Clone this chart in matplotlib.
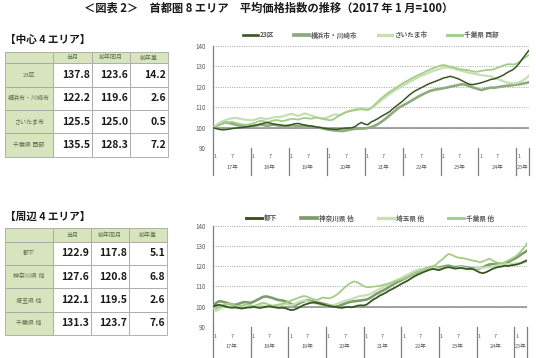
import numpy as np
import matplotlib
matplotlib.use('Agg')
import matplotlib.pyplot as plt
from matplotlib.patches import Rectangle
from matplotlib.lines import Line2D
import matplotlib.transforms as mtransforms

# ---------------- data ----------------
title = "＜図表 2＞　首都圏 8 エリア　平均価格指数の推移（2017 年 1 月=100）"

center_title = "【中心 4 エリア】"
center_names = ["23区", "横浜市・川崎市", "さいたま市", "千葉県 西部"]
center_cur = [137.8, 122.2, 125.5, 135.5]
center_prev = [123.6, 119.6, 125.0, 128.3]
center_diff = [14.2, 2.6, 0.5, 7.2]

outer_title = "【周辺 4 エリア】"
outer_names = ["都下", "神奈川県 他", "埼玉県 他", "千葉県 他"]
outer_cur = [122.9, 127.6, 122.1, 131.3]
outer_prev = [117.8, 120.8, 119.5, 123.7]
outer_diff = [5.1, 6.8, 2.6, 7.6]

table_header = ["当月", "前年同月", "前年差"]

month_ticks = [0, 6, 12, 18, 24, 30, 36, 42, 48, 54, 60, 66, 72, 78, 84, 90, 96]
month_labels = ["1", "7"] * 8 + ["1"]
year_labels = ["17年", "18年", "19年", "20年", "21年", "22年", "23年", "24年", "25年"]
year_bounds = [0, 12, 24, 36, 48, 60, 72, 84, 96, 100]
y_ticks = [90, 100, 110, 120, 130, 140]

# monthly index, Jan 2017 .. May 2025
ku23 = [
    100.0, 99.6, 99.2, 99.0, 99.1, 99.3, 99.6, 99.8, 100.0, 100.1, 100.3, 100.5,
    100.8, 101.1, 101.4, 101.8, 102.2, 102.5, 102.3, 101.9, 101.6, 101.5, 101.2, 101.0,
    101.2, 101.6, 102.0, 102.1, 101.7, 101.3, 101.0, 100.9, 100.6, 100.3, 100.1, 99.8,
    99.6, 99.4, 99.3, 99.2, 99.4, 99.6, 99.8, 99.9, 100.0, 100.6, 101.8, 102.6,
    101.8, 101.5, 102.8, 103.5, 104.3, 105.3, 106.2, 107.0, 108.0, 109.4, 110.6, 111.8,
    113.0, 114.4, 115.8, 117.0, 118.0, 118.8, 119.6, 120.4, 121.2, 121.8, 122.4, 123.0,
    123.6, 124.3, 124.6, 125.1, 124.7, 124.2, 123.6, 122.8, 122.0, 121.3, 121.0, 121.3,
    121.6, 122.0, 122.5, 123.0, 123.6, 123.8, 124.4, 125.0, 125.8, 126.8, 127.6, 128.4,
    129.8, 131.6, 133.8, 135.8, 137.8]
yokohama = [
    100.0, 100.8, 101.6, 102.2, 102.6, 102.4, 102.0, 101.6, 101.2, 100.9, 100.7, 100.6,
    100.8, 101.0, 101.2, 101.5, 101.3, 101.0, 101.2, 101.5, 101.3, 101.0, 100.8, 100.9,
    101.0, 101.2, 101.0, 100.8, 100.9, 101.1, 100.9, 100.6, 100.4, 100.2, 100.0, 99.6,
    99.2, 99.0, 98.8, 98.6, 98.5, 98.4, 98.7, 99.0, 99.3, 99.5, 99.6, 99.6,
    99.7, 99.9, 100.3, 100.9, 101.6, 102.6, 103.7, 104.9, 106.2, 107.5, 108.8, 110.0,
    110.8, 111.6, 112.5, 113.4, 114.3, 115.2, 116.0, 116.8, 117.5, 118.1, 118.5, 118.8,
    119.0, 119.3, 119.6, 120.0, 120.3, 120.6, 121.0, 121.2, 120.9, 120.4, 119.8, 119.3,
    118.8, 118.4, 118.9, 119.3, 119.6, 119.5, 119.8, 120.0, 120.3, 120.5, 120.6, 120.8,
    121.0, 121.2, 121.5, 121.8, 122.2]
saitama_city = [
    100.0, 101.2, 102.4, 103.2, 103.8, 104.3, 104.6, 104.8, 104.6, 104.3, 104.0, 103.8,
    103.6, 103.9, 104.3, 104.8, 104.5, 104.2, 104.6, 105.0, 105.4, 105.2, 105.6, 106.0,
    106.5, 106.8, 106.2, 105.8, 106.4, 107.0, 106.6, 106.0, 105.5, 105.0, 104.7, 104.6,
    104.9, 105.5, 106.3, 106.5, 106.0, 106.8, 107.6, 108.2, 108.6, 109.0, 109.4, 109.6,
    109.3, 108.9, 109.5, 110.6, 111.8, 113.0, 114.2, 115.4, 116.6, 117.6, 118.6, 119.5,
    120.4, 121.3, 122.2, 123.0, 123.8, 124.6, 125.3, 126.0, 126.7, 127.3, 127.8, 128.3,
    128.8, 129.2, 129.5, 129.3, 128.9, 128.4, 128.0, 127.6, 127.2, 126.8, 126.5, 126.2,
    125.9, 125.6, 125.4, 125.2, 125.0, 124.4, 123.8, 123.2, 122.6, 122.1, 121.8, 121.6,
    121.8, 122.2, 123.0, 124.0, 125.5]
chiba_west = [
    100.0, 100.6, 101.5, 102.0, 102.4, 102.6, 102.9, 102.5, 102.0, 101.7, 101.5, 101.6,
    101.8, 102.3, 102.9, 103.4, 103.2, 102.8, 103.0, 103.5, 103.8, 103.5, 103.2, 103.6,
    104.0, 104.4, 104.2, 104.0, 104.5, 104.8, 104.6, 104.4, 104.8, 105.0, 104.6, 104.2,
    104.0, 103.6, 104.0, 105.0, 106.0, 106.8, 107.5, 108.0, 108.3, 108.6, 108.9, 109.0,
    108.8, 108.6, 109.6, 111.0, 112.5, 114.0, 115.3, 116.5, 117.6, 118.6, 119.6, 120.6,
    121.6, 122.5, 123.3, 124.2, 125.0, 125.7, 126.4, 127.2, 127.9, 128.6, 129.2, 129.8,
    130.3, 130.6, 130.2, 129.8, 129.5, 129.0, 128.6, 128.4, 128.2, 128.0, 127.6, 127.3,
    127.4, 127.8, 128.0, 128.2, 128.3, 128.6, 129.2, 129.8, 130.4, 130.9, 131.0, 130.8,
    131.2, 132.2, 133.4, 134.5, 135.5]

tokyo_other = [
    100.0, 100.6, 100.8, 100.4, 100.0, 99.6, 99.4, 99.6, 99.3, 99.0, 99.2, 99.5,
    99.6, 99.8, 99.5, 99.3, 99.6, 99.9, 100.1, 99.8, 99.5, 99.3, 99.4, 99.2,
    98.6, 98.2, 98.5, 99.2, 100.0, 100.8, 101.3, 101.8, 102.0, 101.8, 101.4, 101.0,
    100.6, 100.3, 100.0, 99.8, 99.5, 99.3, 99.6, 99.8, 99.6, 99.9, 100.4, 100.6,
    100.5, 101.0, 102.2, 103.4, 104.2, 105.3, 106.0, 106.8, 107.8, 108.6, 109.4, 110.3,
    111.2, 112.0, 112.8, 113.8, 114.8, 115.6, 116.3, 117.0, 117.6, 118.2, 118.6, 118.3,
    118.0, 118.6, 119.2, 119.5, 119.2, 118.8, 118.9, 119.1, 118.8, 118.5, 118.7, 118.4,
    117.6, 116.8, 116.5, 117.0, 117.8, 118.6, 119.2, 119.6, 119.8, 120.2, 120.0, 120.4,
    120.6, 120.9, 121.4, 122.2, 122.9]
kanagawa = [
    100.0, 101.8, 102.6, 102.4, 102.0, 101.5, 101.0, 100.8, 101.2, 101.8, 102.2, 102.0,
    101.8, 102.4, 103.2, 104.0, 104.8, 105.0, 104.6, 104.2, 103.6, 103.2, 103.0, 102.6,
    102.0, 101.0, 100.6, 101.2, 102.0, 102.6, 103.0, 102.8, 102.4, 102.0, 101.8, 101.4,
    101.0, 100.6, 100.3, 100.0, 100.2, 100.8, 101.4, 102.0, 102.4, 102.6, 102.8, 103.0,
    103.2, 103.5, 104.2, 105.2, 106.2, 107.0, 107.8, 108.6, 109.6, 110.6, 111.5, 112.3,
    113.0, 113.8, 114.6, 115.4, 116.2, 116.9, 117.6, 118.3, 118.8, 119.3, 119.6, 119.4,
    119.2, 119.6, 120.0, 120.2, 119.8, 119.5, 119.6, 119.8, 119.6, 119.3, 119.0, 118.8,
    118.6, 118.9, 119.4, 120.2, 120.8, 121.0, 120.8, 121.2, 121.0, 121.4, 122.0, 122.8,
    123.6, 124.5, 125.6, 126.6, 127.6]
saitama_pref = [
    100.0, 97.8, 98.6, 99.6, 100.2, 100.0, 99.6, 99.4, 99.8, 100.2, 100.0, 99.8,
    99.6, 99.8, 100.2, 100.6, 100.4, 100.0, 99.8, 100.2, 100.6, 100.4, 100.8, 101.2,
    101.0, 100.6, 101.2, 102.0, 102.6, 103.0, 102.6, 102.2, 101.8, 101.4, 101.0, 100.8,
    100.6, 100.4, 100.6, 101.0, 101.6, 102.2, 102.8, 103.2, 103.6, 104.2, 104.8, 105.2,
    105.4, 105.6, 106.2, 107.0, 107.8, 108.6, 109.4, 110.2, 111.0, 111.8, 112.6, 113.4,
    114.2, 115.0, 115.8, 116.6, 117.4, 118.0, 118.6, 118.2, 118.8, 119.2, 119.0, 119.4,
    118.6, 119.0, 119.4, 119.6, 119.2, 118.8, 119.2, 119.5, 119.2, 118.8, 118.4, 118.6,
    118.8, 119.0, 119.2, 119.4, 119.5, 119.8, 120.2, 120.4, 120.6, 121.0, 120.8, 121.0,
    121.2, 121.4, 121.6, 121.8, 122.1]
chiba_pref = [
    100.0, 99.0, 99.8, 100.6, 101.2, 101.6, 101.0, 100.4, 100.0, 100.4, 100.8, 101.0,
    100.6, 100.2, 100.8, 101.4, 101.8, 101.4, 100.8, 100.4, 100.6, 101.0, 101.4, 101.8,
    102.4, 103.0, 103.6, 104.2, 104.8, 105.2, 104.8, 104.2, 103.6, 103.2, 103.8, 104.4,
    104.2, 104.0, 104.6, 105.4, 106.6, 108.0, 109.6, 110.8, 111.8, 112.4, 112.0, 111.0,
    110.0, 109.6, 109.6, 109.8, 110.0, 110.2, 110.6, 111.0, 111.4, 112.0, 112.6, 113.0,
    113.4, 114.0, 114.6, 115.4, 116.2, 117.0, 117.6, 118.2, 118.8, 119.4, 120.0, 120.6,
    122.2, 123.2, 124.8, 126.0, 125.6, 124.8, 124.2, 124.0, 123.8, 123.4, 123.0, 122.6,
    122.4, 121.8, 122.4, 123.0, 123.7, 122.8, 122.0, 121.6, 121.4, 122.0, 122.8, 123.6,
    124.4, 125.6, 127.2, 129.0, 131.3]

# ---------------- style ----------------
plt.rcParams['font.family'] = ['Noto Sans CJK JP', 'DejaVu Sans']
W, H = 536, 358
fig = plt.figure(figsize=(W / 100, H / 100), dpi=100)

TABLE_GREEN = '#D8E4BE'
GRID = '#A6A6A6'
LABEL_COLOR = '#5B6B4A'
AXIS_TEXT = '#595959'


def box(x0, y0, x1, y1):
    return [x0 / W, 1 - y1 / H, (x1 - x0) / W, (y1 - y0) / H]


fig.text(269 / W, 1 - 8 / H, title, ha='center', va='center',
         fontsize=8.1, fontweight='bold', color='#1a1a1a')


def draw_table(rect_px, header_h, row_h, col_w, names, cur, prev, diff, ttl, ttl_y):
    ax = fig.add_axes(box(*rect_px))
    total_w = sum(col_w)
    total_h = header_h + row_h * len(names)
    ax.set_xlim(0, total_w)
    ax.set_ylim(total_h, 0)
    ax.axis('off')
    xs = [0]
    for w in col_w:
        xs.append(xs[-1] + w)
    for c in range(4):
        ax.add_patch(Rectangle((xs[c], 0), col_w[c], header_h, fc=TABLE_GREEN,
                               ec=GRID, lw=0.6, clip_on=False))
        if c > 0:
            ax.text((xs[c] + xs[c + 1]) / 2, header_h / 2, table_header[c - 1],
                    ha='center', va='center', fontsize=4.3, color=LABEL_COLOR)
    for i, name in enumerate(names):
        y = header_h + i * row_h
        ax.add_patch(Rectangle((0, y), col_w[0], row_h, fc=TABLE_GREEN,
                               ec=GRID, lw=0.6, clip_on=False))
        ax.text(col_w[0] / 2, y + row_h / 2, name, ha='center', va='center',
                fontsize=4.3, color=LABEL_COLOR)
        vals = [cur[i], prev[i], diff[i]]
        for c in range(3):
            ax.add_patch(Rectangle((xs[c + 1], y), col_w[c + 1], row_h, fc='white',
                                   ec=GRID, lw=0.6, clip_on=False))
            ax.text(xs[c + 2] - 2, y + row_h / 2, f"{vals[c]:.1f}", ha='right',
                    va='center', fontsize=7.5, fontweight='bold', color='#1a1a1a')
    fig.text(5 / W, 1 - ttl_y / H, ttl, ha='left', va='center', fontsize=7.7,
             fontweight='bold', color='#1a1a1a')


draw_table((5, 51.7, 168, 156.7), 11.7, 23.3, [48, 39, 38, 38],
           center_names, center_cur, center_prev, center_diff, center_title, 40)
draw_table((5, 228.3, 167, 335), 13.3, 23.3, [48, 38, 38, 38],
           outer_names, outer_cur, outer_prev, outer_diff, outer_title, 216.5)


def draw_chart(rect_px, series, names, colors, widths, draw_order, sep_depth,
               month_lab_y, year_lab_y, legend_y, col_spacing, handle_len):
    ax = fig.add_axes(box(*rect_px))
    height_px = rect_px[3] - rect_px[1]
    x = np.arange(len(series[0]))
    for idx in draw_order:
        ax.plot(x, series[idx], color=colors[idx], lw=widths[idx],
                solid_joinstyle='round', zorder=3 + draw_order.index(idx))
    ax.set_xlim(0, 100)
    ax.set_ylim(90, 140)
    ax.set_yticks(y_ticks)
    ax.set_yticklabels([str(v) for v in y_ticks], fontsize=4.5, color=AXIS_TEXT)
    ax.tick_params(axis='y', length=0, pad=5)
    ax.yaxis.grid(True, ls=(0, (1.2, 1.6)), color='#9A9A9A', lw=0.6)
    ax.set_axisbelow(True)
    ax.axhline(100, color='#8C8C8C', lw=1.1, zorder=2)
    for s in ['top', 'right', 'bottom']:
        ax.spines[s].set_visible(False)
    ax.spines['left'].set_color('#7F7F7F')
    ax.spines['left'].set_linewidth(0.9)
    ax.set_xticks(month_ticks)
    ax.set_xticklabels(month_labels, fontsize=3.8, color=AXIS_TEXT)
    ax.tick_params(axis='x', length=0, pad=month_lab_y * 0.72)
    shift = mtransforms.ScaledTranslation(2.2 / 100, 0, fig.dpi_scale_trans)
    for lab in ax.get_xticklabels():
        lab.set_va('center')
        if lab.get_text() == "1":
            lab.set_transform(lab.get_transform() + shift)
    trans = mtransforms.blended_transform_factory(ax.transData, ax.transAxes)
    for b in year_bounds:
        ax.plot([b, b], [0, -sep_depth / height_px], transform=trans,
                color='#7F7F7F', lw=0.9, clip_on=False, zorder=1)
    for k, lab in enumerate(year_labels):
        c = (year_bounds[k] + year_bounds[k + 1]) / 2
        ax.text(c, -year_lab_y / height_px, lab, transform=trans, ha='center',
                va='center', fontsize=4.0, color=AXIS_TEXT)
    handles = [Line2D([], [], color=colors[i], lw=widths[i] + 0.8) for i in range(4)]
    ax.legend(handles, names, ncol=4, loc='center',
              bbox_to_anchor=(0.5, 1 + legend_y / height_px), frameon=False,
              handlelength=handle_len, handletextpad=0.3,
              columnspacing=col_spacing, prop={'size': 4.8, 'weight': 'bold'},
              labelcolor=AXIS_TEXT, borderpad=0)
    return ax


center_colors = ['#375623', '#8EAA7E', '#C6E0B4', '#A4CD88']
center_widths = [1.1, 1.9, 1.6, 1.3]
draw_chart((213, 45.7, 529, 148.3), [ku23, yokohama, saitama_city, chiba_west],
           center_names, center_colors, center_widths, [1, 2, 3, 0],
           27, 8.4, 19.5, 10.7, 3.0, 2.2)

outer_colors = ['#375623', '#7F9D6C', '#C6E0B4', '#A4CD88']
outer_widths = [1.3, 1.9, 1.6, 1.3]
draw_chart((213, 225.7, 527, 326.7), [tokyo_other, kanagawa, saitama_pref, chiba_pref],
           outer_names, outer_colors, outer_widths, [1, 2, 3, 0],
           32, 9.3, 19.3, 7.7, 3.6, 2.4)

fig.savefig('out.png', dpi=100)
